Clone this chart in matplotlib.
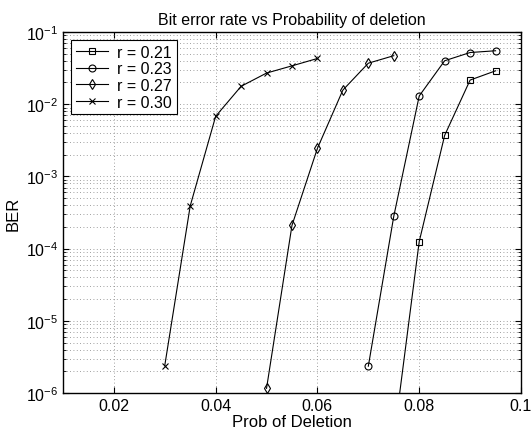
import matplotlib
matplotlib.use("Agg")
import matplotlib.pyplot as plt
from matplotlib.ticker import LogLocator, NullFormatter, FixedLocator

# data (BER vs prob. of deletion)
p_021 = [0.075, 0.08, 0.085, 0.09, 0.095]
ber_021 = [2.3e-7, 1.25e-4, 3.7e-3, 2.16e-2, 2.9e-2]

p_023 = [0.07, 0.075, 0.08, 0.085, 0.09, 0.095]
ber_023 = [2.35e-6, 2.8e-4, 1.3e-2, 4.0e-2, 5.2e-2, 5.5e-2]

p_027 = [0.05, 0.055, 0.06, 0.065, 0.07, 0.075]
ber_027 = [1.16e-6, 2.1e-4, 2.45e-3, 1.57e-2, 3.7e-2, 4.7e-2]

p_030 = [0.03, 0.035, 0.04, 0.045, 0.05, 0.055, 0.06]
ber_030 = [2.4e-6, 3.9e-4, 6.8e-3, 1.77e-2, 2.7e-2, 3.4e-2, 4.3e-2]

labels = ["r = 0.21", "r = 0.23", "r = 0.27", "r = 0.30"]
xticks = [0.02, 0.04, 0.06, 0.08, 0.1]
xticklabels = ["0.02", "0.04", "0.06", "0.08", "0.1"]

plt.rcParams['font.family'] = ['Liberation Sans', 'DejaVu Sans']
plt.rcParams['mathtext.fontset'] = 'custom'
plt.rcParams['mathtext.rm'] = 'Liberation Sans'
plt.rcParams['mathtext.it'] = 'Liberation Sans'

fig = plt.figure(figsize=(5.32, 4.35), dpi=100)
ax = fig.add_axes([0.1184, 0.0943, 0.8609, 0.8298])

style = dict(color='k', lw=0.8, mfc='none', mec='k', mew=0.8)
ax.semilogy(p_021, ber_021, marker='s', ms=4, label=labels[0], **style)
ax.semilogy(p_023, ber_023, marker='o', ms=5, label=labels[1], **style)
ax.semilogy(p_027, ber_027, marker='d', ms=5, label=labels[2], **style)
ax.semilogy(p_030, ber_030, marker='x', ms=4, label=labels[3], **style)

ax.set_xlim(0.01, 0.1)
ax.set_ylim(1e-6, 1e-1)
ax.xaxis.set_major_locator(FixedLocator(xticks))
ax.set_xticklabels(xticklabels)
ax.yaxis.set_major_locator(LogLocator(base=10, numticks=10))
ax.yaxis.set_minor_locator(LogLocator(base=10, subs=range(2, 10), numticks=10))
ax.yaxis.set_minor_formatter(NullFormatter())

grid_style = dict(color='0.5', lw=0.6, dashes=(1, 3))
ax.grid(True, which='major', axis='x', **grid_style)
ax.grid(True, which='both', axis='y', **grid_style)

ax.tick_params(which='both', direction='in', top=True, right=True, labelsize=11.5)
ax.tick_params(which='major', length=4)
ax.tick_params(which='minor', length=2)
for s in ax.spines.values():
    s.set_linewidth(1.0)

ax.set_title("Bit error rate vs Probability of deletion", fontsize=11.5)
ax.set_xlabel("Prob of Deletion", fontsize=12, labelpad=1)
ax.set_ylabel("BER", fontsize=12, labelpad=4)

leg = ax.legend(loc='upper left', fontsize=11.5, fancybox=False, framealpha=1,
                edgecolor='k', handlelength=2.0, borderpad=0.3, labelspacing=0.1,
                borderaxespad=0.5, handletextpad=0.6)
leg.get_frame().set_linewidth(0.8)

fig.savefig("out.png", dpi=100)
